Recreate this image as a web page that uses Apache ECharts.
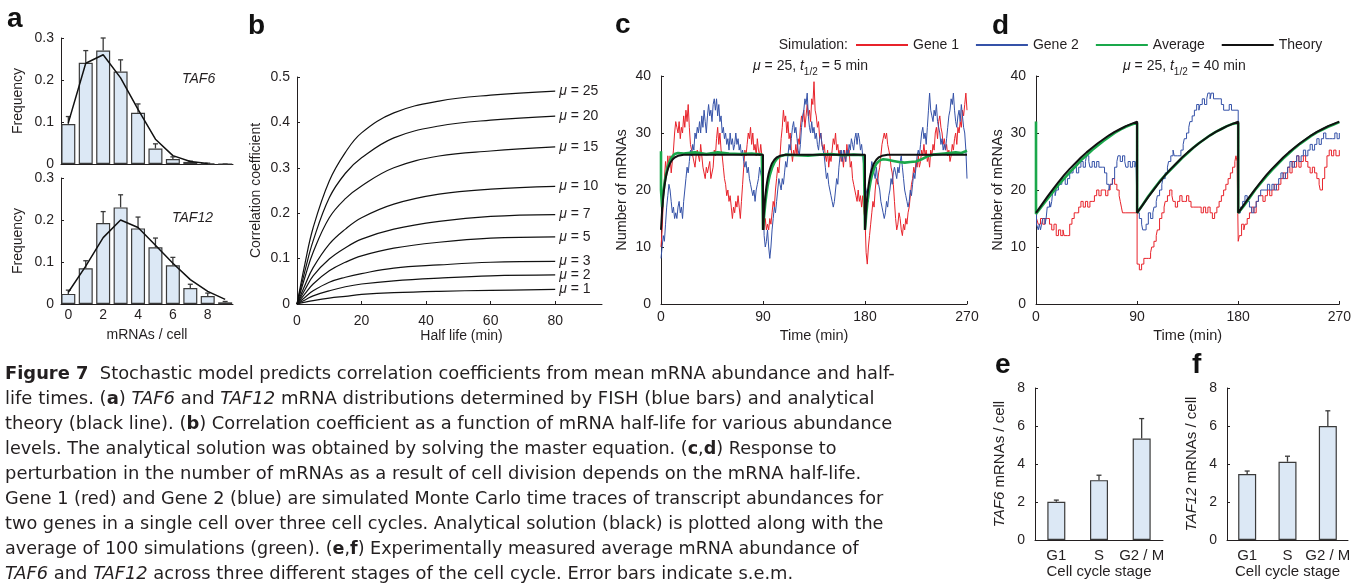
<!DOCTYPE html>
<html>
<head>
<meta charset="utf-8">
<script src="https://cdn.jsdelivr.net/npm/echarts@6.0.0/dist/echarts.min.js"></script>
<style>
  html, body { margin: 0; padding: 0; background: #fff; }
  #chart { width: 1354px; height: 587px; }
</style>
</head>
<body>
<div id="chart"></div>
<script>
// ---- panel a: FISH distributions ----
const mrnaCounts = [0, 1, 2, 3, 4, 5, 6, 7, 8, 9]
const taf6Freq = [0.095, 0.241, 0.27, 0.22, 0.122, 0.037, 0.012, 0.005, 0.001, 0]
const taf6ErrTop = [0.113, 0.27, 0.30, 0.248, 0.143, 0.048, 0.017, 0.007, 0.002, 0]
const taf6Theory = [0.098, 0.24, 0.26, 0.205, 0.13, 0.059, 0.02, 0.006, 0.001]
const taf12Freq = [0.024, 0.085, 0.193, 0.23, 0.18, 0.135, 0.092, 0.038, 0.019, 0.004]
const taf12ErrTop = [0.033, 0.103, 0.22, 0.26, 0.207, 0.157, 0.111, 0.047, 0.026, 0.006]
const taf12Theory = [0.028, 0.09, 0.158, 0.2, 0.182, 0.14, 0.097, 0.058, 0.03, 0.011]

// ---- panel b: correlation vs half life ----
const halfLife = [0, 2.5, 5, 10, 15, 20, 30, 44, 60, 80]
const muLevels = [25, 20, 15, 10, 7, 5, 3, 2, 1]
const corrMu25 = [0, 0.09, 0.168, 0.271, 0.334, 0.377, 0.421, 0.447, 0.46, 0.469]
const corrMu20 = [0, 0.074, 0.139, 0.234, 0.288, 0.322, 0.366, 0.392, 0.405, 0.414]
const corrMu15 = [0, 0.06, 0.114, 0.19, 0.232, 0.26, 0.30, 0.326, 0.337, 0.346]
const corrMu10 = [0, 0.042, 0.08, 0.132, 0.165, 0.19, 0.22, 0.242, 0.253, 0.259]
const corrMu7 = [0, 0.032, 0.062, 0.099, 0.124, 0.143, 0.165, 0.182, 0.193, 0.197]
const corrMu5 = [0, 0.023, 0.044, 0.073, 0.092, 0.106, 0.123, 0.136, 0.145, 0.148]
const corrMu3 = [0, 0.015, 0.029, 0.048, 0.059, 0.067, 0.079, 0.086, 0.092, 0.094]
const corrMu2 = [0, 0.009, 0.018, 0.029, 0.038, 0.044, 0.051, 0.057, 0.062, 0.064]
const corrMu1 = [0, 0.004, 0.0075, 0.013, 0.017, 0.021, 0.025, 0.028, 0.030, 0.032]

// ---- panel c: t1/2 = 5 min, [time, mRNAs] ----
const gene1Fast = [[0,10],[1,13],[2,18],[3,22],[4,25],[5,23],[6,26],[7,24],[8,26],[9,23],[10,25],[11,27],[12,30],[13,32],[14,31],[15,30],[16,32],[17,29],[18,31],[19,30],[20,33],[21,31],[22,34],[23,32],[24,35],[25,31],[26,28],[27,27],[28,26],[30,24],[31,26],[32,27],[34,25],[35,28],[36,26],[37,24],[39,22],[40,24],[41,23],[43,25],[44,22],[46,24],[47,27],[48,26],[49,29],[50,31],[51,28],[52,30],[53,27],[54,26],[55,24],[56,22],[57,21],[58,19],[59,20],[60,18],[61,19],[62,17],[63,15],[64,17],[65,16],[66,18],[67,17],[68,19],[69,17],[70,15],[71,18],[72,21],[73,24],[74,27],[75,26],[76,28],[77,30],[78,29],[79,31],[80,28],[81,30],[82,27],[83,28],[84,26],[85,29],[86,27],[87,26],[88,28],[89,26],[90,25],[90.5,14],[91,13],[92,15],[93,13],[94,14],[95,13],[96,15],[97,14],[98,16],[99,18],[100,17],[101,20],[102,22],[103,24],[104,23],[105,26],[106,29],[107,31],[108,34],[109,32],[110,33],[111,30],[112,32],[113,29],[114,30],[115,27],[116,25],[117,27],[118,26],[119,28],[120,26],[121,29],[122,28],[123,31],[124,33],[125,32],[126,34],[127,31],[128,33],[129,35],[130,33],[131,34],[132,32],[133,36],[134,35],[135,39],[136,34],[137,33],[138,31],[139,32],[140,29],[141,30],[142,28],[143,27],[144,28],[145,26],[146,25],[147,27],[148,24],[149,26],[150,25],[151,27],[152,29],[153,28],[154,30],[155,27],[156,28],[157,26],[158,27],[159,25],[160,26],[161,24],[162,27],[163,25],[164,28],[165,26],[166,27],[167,24],[168,25],[169,22],[170,21],[171,20],[172,19],[173,18],[174,20],[175,18],[176,19],[177,17],[178,19],[179,16],[180,15],[181,9],[182,7],[183,10],[184,12],[185,14],[186,16],[187,18],[188,17],[189,20],[190,22],[191,21],[192,23],[193,24],[194,26],[195,28],[196,29],[197,30],[198,29],[199,30],[200,28],[201,27],[202,26],[203,24],[204,23],[205,21],[206,18],[207,15],[208,13],[209,14],[210,16],[211,15],[212,13],[213,12],[214,14],[215,13],[216,15],[217,14],[218,16],[219,17],[220,19],[221,21],[222,22],[223,24],[224,23],[225,25],[226,24],[227,26],[228,24],[229,25],[230,27],[231,26],[232,28],[233,26],[234,27],[235,25],[236,26],[237,24],[238,27],[239,26],[240,28],[241,27],[242,30],[243,31],[244,29],[245,32],[246,33],[247,31],[248,30],[249,28],[250,29],[251,27],[252,28],[253,26],[254,27],[255,25],[256,26],[257,28],[258,27],[259,29],[260,30],[261,28],[262,31],[263,30],[264,32],[265,31],[266,34],[267,33],[268,35],[269,37],[270,34]]
const gene2Fast = [[0,8],[1,10],[2,12],[3,11],[4,14],[5,17],[6,19],[7,21],[8,20],[9,18],[10,16],[11,17],[12,15],[13,16],[14,15],[15,17],[16,18],[17,16],[18,17],[19,15],[20,18],[21,20],[22,22],[23,24],[24,23],[25,25],[26,27],[27,26],[28,28],[29,27],[30,30],[31,29],[32,31],[33,30],[34,32],[35,30],[36,33],[37,31],[38,34],[39,32],[40,30],[41,33],[42,35],[43,33],[44,34],[45,32],[46,35],[47,36],[48,34],[49,36],[50,33],[51,35],[52,32],[53,33],[54,30],[55,31],[56,29],[57,30],[58,28],[59,29],[60,27],[61,30],[62,28],[63,29],[64,27],[65,28],[66,30],[67,28],[68,29],[69,27],[70,28],[71,26],[72,27],[73,25],[74,24],[75,25],[76,23],[77,24],[78,22],[79,21],[80,20],[81,19],[82,20],[83,18],[84,20],[85,21],[86,22],[87,24],[88,23],[89,22],[90,21],[91,12],[92,10],[93,11],[94,13],[95,10],[96,8],[97,10],[98,13],[99,15],[100,17],[101,16],[102,18],[103,20],[104,22],[105,21],[106,20],[107,22],[108,21],[109,23],[110,25],[111,24],[112,26],[113,28],[114,27],[115,29],[116,31],[117,32],[118,30],[119,31],[120,29],[121,27],[122,26],[123,28],[124,31],[125,33],[126,34],[127,36],[128,35],[129,37],[130,33],[131,31],[132,30],[133,32],[134,30],[135,31],[136,29],[137,30],[138,28],[139,27],[140,29],[141,30],[142,28],[143,27],[144,26],[145,24],[146,22],[147,23],[148,21],[149,20],[150,19],[151,18],[152,17],[153,18],[154,20],[155,22],[156,21],[157,24],[158,26],[159,27],[160,25],[161,27],[162,26],[163,25],[164,27],[165,26],[166,28],[167,27],[168,29],[169,28],[170,27],[171,29],[172,30],[173,28],[174,30],[175,29],[176,27],[177,28],[178,26],[179,24],[180,21],[181,20],[182,19],[183,18],[184,21],[185,23],[186,25],[187,24],[188,23],[189,22],[190,24],[191,22],[192,21],[193,20],[194,18],[195,17],[196,16],[197,15],[198,16],[199,18],[200,17],[201,19],[202,20],[203,22],[204,21],[205,23],[206,24],[207,23],[208,22],[209,24],[210,23],[211,25],[212,26],[213,24],[214,22],[215,20],[216,19],[217,18],[218,17],[219,18],[220,20],[221,19],[222,21],[223,23],[224,22],[225,24],[226,26],[227,27],[228,26],[229,28],[230,30],[231,31],[232,29],[233,30],[234,28],[235,31],[236,34],[237,37],[238,34],[239,33],[240,32],[241,34],[242,33],[243,35],[244,32],[245,31],[246,30],[247,28],[248,29],[249,27],[250,28],[251,27],[252,29],[253,31],[254,33],[255,34],[256,36],[257,35],[258,37],[259,34],[260,32],[261,31],[262,33],[263,34],[264,32],[265,35],[266,33],[267,31],[268,30],[269,27],[270,22]]
const averageFast = [[0,26.8],[0,20],[1,17],[2,19.5],[3,21],[4,22.3],[5,23.3],[6,24.1],[8,25.2],[10,25.9],[12,26.3],[15,26.5],[20,26.4],[30,26.6],[40,26.3],[50,26.6],[60,26.4],[70,26.3],[80,26.4],[89,26.2],[90,26.1],[90,13],[91,15.5],[92,17.6],[93,19.3],[94,20.6],[95,21.7],[96,22.6],[98,23.9],[100,24.8],[102,25.4],[105,25.9],[110,26.2],[120,26.1],[130,26],[140,26.2],[150,26.3],[160,26.1],[170,26.2],[179,26.1],[180,26],[180,13],[181,15.5],[182,17.6],[183,19.2],[184,20.5],[185,21.6],[186,22.5],[188,23.8],[190,24.6],[193,25.2],[196,25.4],[200,25.3],[205,25.1],[210,24.9],[215,24.8],[220,24.9],[225,25],[230,25.4],[235,25.9],[240,26.2],[250,26.4],[260,26.6],[265,26.5],[270,26.9]]
const theoryFast = [[0,13],[1,16.5],[2,18.9],[3,20.6],[4,21.9],[5,22.9],[6,23.6],[7,24.2],[8,24.7],[10,25.3],[12,25.7],[15,26],[20,26.2],[90,26.2],[90,13],[91,16.5],[92,18.9],[93,20.6],[94,21.9],[95,22.9],[96,23.6],[97,24.2],[98,24.7],[100,25.3],[102,25.7],[105,26],[110,26.2],[180,26.2],[180,13],[181,16.5],[182,18.9],[183,20.6],[184,21.9],[185,22.9],[186,23.6],[187,24.2],[188,24.7],[190,25.3],[192,25.7],[195,26],[200,26.2],[270,26.2]]

// ---- panel d: t1/2 = 40 min, [time, mRNAs] ----
const gene1Slow = [[0,32],[0.5,15],[2,14],[4,15],[6,14],[8,15],[10,15],[12,14],[14,13],[16,14],[18,12],[20,13],[22,12],[24,13],[25,12],[28,12],[30,14],[32,15],[34,16],[36,16],[38,17],[40,18],[42,17],[44,18],[46,17],[48,18],[50,18],[52,19],[54,20],[56,19],[58,20],[60,20],[62,19],[64,20],[66,21],[68,22],[70,21],[72,20],[74,19],[75,18],[76,17],[77,16],[80,16],[90,7],[92,6],[94,7],[96,8],[98,8],[100,8],[102,9],[103,10],[105,11],[107,12],[108,13],[110,15],[112,16],[114,17],[115,18],[117,19],[119,20],[121,19],[122,18],[124,17],[126,18],[128,19],[130,18],[132,18],[134,19],[136,18],[138,17],[140,17],[145,17],[147,16],[149,17],[151,16],[153,17],[155,16],[157,15],[159,16],[161,17],[163,18],[165,19],[167,20],[169,21],[171,22],[173,23],[175,24],[177,25],[178,26],[179,25],[180,11],[181,12],[183,14],[185,13],[186,14],[188,15],[190,16],[192,17],[194,16],[196,18],[198,19],[200,19],[202,18],[204,19],[206,20],[208,19],[210,20],[212,21],[214,20],[216,21],[218,22],[220,23],[222,22],[224,24],[226,23],[228,25],[230,24],[232,26],[234,24],[236,25],[238,26],[240,25],[242,24],[244,23],[246,24],[248,23],[250,22],[252,21],[253,20],[255,22],[257,24],[259,26],[261,27],[263,26],[265,27],[267,26],[270,27]]
const gene2Slow = [[0,26],[0.5,14],[2,13],[3,14],[4,13],[5,14],[6,15],[8,14],[9,15],[10,17],[12,18],[13,17],[14,18],[15,20],[17,19],[18,20],[20,21],[23,22],[26,21],[28,22],[30,23],[33,24],[36,23],[38,24],[40,25],[42,24],[44,25],[45,26],[47,25],[48,24],[50,25],[52,24],[54,25],[56,24],[59,24],[61,23],[63,21],[65,20],[66,21],[68,22],[70,24],[72,25],[73,26],[75,25],[77,26],[79,25],[80,24],[82,25],[84,24],[86,25],[88,24],[89,25],[90,16],[92,15],[94,14],[95,13],[98,14],[100,16],[102,15],[104,16],[105,17],[107,18],[108,19],[110,20],[112,21],[113,22],[115,23],[117,24],[118,25],[120,26],[122,27],[123,26],[126,26],[129,27],[131,28],[132,29],[134,30],[136,31],[137,32],[139,33],[141,34],[143,35],[145,34],[146,35],[148,36],[150,35],[152,36],[153,37],[155,36],[156,37],[158,36],[163,36],[165,35],[167,34],[170,34],[172,35],[174,34],[180,16],[182,17],[184,18],[186,19],[188,18],[190,17],[192,16],[194,17],[196,18],[198,19],[200,20],[203,20],[206,21],[208,20],[210,21],[212,20],[214,21],[216,22],[218,23],[220,22],[222,23],[224,24],[226,25],[228,24],[230,25],[232,26],[234,25],[236,26],[238,27],[240,26],[242,27],[244,28],[246,27],[248,28],[250,29],[252,28],[254,29],[256,30],[258,29],[261,29],[264,29],[266,30],[268,29],[270,30]]
const averageSlow = [[0,32],[0,15.8],[5,17.1],[10,18.4],[15,19.6],[20,20.9],[25,22],[30,23.1],[35,24.1],[40,25.2],[45,26.1],[50,27],[55,27.8],[60,28.6],[65,29.3],[70,30],[75,30.6],[80,31.1],[85,31.5],[90,31.8],[90,16],[95,17.4],[100,18.9],[105,20.2],[110,21.5],[115,22.6],[120,23.6],[125,24.6],[130,25.6],[135,26.5],[140,27.4],[145,28.2],[150,28.9],[155,29.6],[160,30.2],[165,30.7],[170,31.2],[175,31.6],[180,31.8],[180,16],[185,17.2],[190,18.6],[195,20],[200,21.2],[205,22.4],[210,23.5],[215,24.5],[220,25.5],[225,26.4],[230,27.3],[235,28.1],[240,28.8],[245,29.5],[250,30.1],[255,30.6],[260,31.1],[265,31.5],[270,31.9]]
const theorySlow = [[0,16],[5,17.4],[10,18.8],[15,20.1],[20,21.4],[25,22.6],[30,23.7],[35,24.7],[40,25.7],[45,26.6],[50,27.4],[55,28.2],[60,28.9],[65,29.6],[70,30.2],[75,30.7],[80,31.2],[85,31.6],[90,32],[90,16],[95,17.4],[100,18.8],[105,20.1],[110,21.4],[115,22.6],[120,23.7],[125,24.7],[130,25.7],[135,26.6],[140,27.4],[145,28.2],[150,28.9],[155,29.6],[160,30.2],[165,30.7],[170,31.2],[175,31.6],[180,32],[180,16],[185,17.4],[190,18.8],[195,20.1],[200,21.4],[205,22.6],[210,23.7],[215,24.7],[220,25.7],[225,26.6],[230,27.4],[235,28.2],[240,28.9],[245,29.6],[250,30.2],[255,30.7],[260,31.2],[265,31.6],[270,32]]

// ---- panels e, f: cell cycle stage ----
const stages = ['G1', 'S', 'G2 / M']
const taf6Mean = [2.01, 3.15, 5.34]
const taf6Sem = [0.09, 0.26, 1.05]
const taf12Mean = [3.47, 4.12, 6.0]
const taf12Sem = [0.16, 0.29, 0.8]

const legendNames = ['Gene 1', 'Gene 2', 'Average', 'Theory']

const captionLines = [
  '{b|Figure 7}  Stochastic model predicts correlation coefficients from mean mRNA abundance and half-',
  'life times. ({b|a}) {i|TAF6} and {i|TAF12} mRNA distributions determined by FISH (blue bars) and analytical',
  'theory (black line). ({b|b}) Correlation coefficient as a function of mRNA half-life for various abundance',
  'levels. The analytical solution was obtained by solving the master equation. ({b|c},{b|d}) Response to',
  'perturbation in the number of mRNAs as a result of cell division depends on the mRNA half-life.',
  'Gene 1 (red) and Gene 2 (blue) are simulated Monte Carlo time traces of transcript abundances for',
  'two genes in a single cell over three cell cycles. Analytical solution (black) is plotted along with the',
  'average of 100 simulations (green). ({b|e},{b|f}) Experimentally measured average mRNA abundance of',
  '{i|TAF6} and {i|TAF12} across three different stages of the cell cycle. Error bars indicate s.e.m.'
]

// layout
const FONT = "'Liberation Sans', Arial, Helvetica, sans-serif"
const CAPTION_FONT = "'DejaVu Sans', Verdana, sans-serif"
const INK = '#231f20'
const RED = '#e8232b'
const BLUE = '#3552a8'
const GREEN = '#1aa84b'
const BLACK = '#111'
const BAR_FILL = '#dce8f5'
const BAR_EDGE = '#3a3a3a'
const CAPTION_LEFT = 5
const CAPTION_TOP = 374
const CAPTION_STEP = 25
const captionRight = [884, 876, 891, 835, 862, 884, 884, 857, 794]

const pairs = (xs, ys) => ys.map((y, i) => [xs[i], y])

function merge(base, extra) {
  const out = Object.assign({}, base)
  for (const k in extra) {
    const v = extra[k]
    if (v && typeof v === 'object' && !Array.isArray(v) && base[k] && typeof base[k] === 'object') {
      out[k] = merge(base[k], v)
    } else {
      out[k] = v
    }
  }
  return out
}

const axisBase = {
  type: 'value',
  nameLocation: 'middle',
  nameTextStyle: { color: INK, fontSize: 14, fontFamily: FONT },
  axisLine: { show: true, onZero: false, lineStyle: { color: INK, width: 1 } },
  axisTick: { show: true, inside: true, length: 3, lineStyle: { color: INK } },
  axisLabel: { color: INK, fontSize: 14, fontFamily: FONT },
  splitLine: { show: false }
}
const axis = (opts) => merge(axisBase, opts)

const italicRich = (size) => ({ i: { fontStyle: 'italic', fontSize: size, fontFamily: FONT, color: INK } })

function errorBar(params, api) {
  const x = api.value(0)
  const p1 = api.coord([x, api.value(1)])
  const p2 = api.coord([x, api.value(2)])
  const st = { stroke: BAR_EDGE, lineWidth: 1.3 }
  return {
    type: 'group',
    children: [
      { type: 'line', shape: { x1: p1[0], y1: p1[1], x2: p2[0], y2: p2[1] }, style: st },
      { type: 'line', shape: { x1: p2[0] - 2.5, y1: p2[1], x2: p2[0] + 2.5, y2: p2[1] }, style: st }
    ]
  }
}

const grids = [
  { left: 61, top: 38, width: 172, height: 126 },   // a top
  { left: 61, top: 178, width: 172, height: 126 },  // a bottom
  { left: 297, top: 77, width: 305, height: 227 },  // b
  { left: 661, top: 76, width: 306, height: 228 },  // c
  { left: 1036, top: 76, width: 306, height: 228 }, // d
  { left: 1035, top: 388, width: 128, height: 152 },// e
  { left: 1227, top: 388, width: 121, height: 152 } // f
]

const stageAxis = (gridIndex) => axis({
  type: 'category', gridIndex, data: stages, axisTick: { show: false }, name: 'Cell cycle stage', nameGap: 22,
  nameTextStyle: { fontSize: 15 }, axisLabel: { margin: 8, fontSize: 15, interval: 0, hideOverlap: false }
})

const xAxes = [
  axis({ gridIndex: 0, min: -0.42, max: 9.45, axisTick: { show: false }, axisLabel: { show: false } }),
  axis({ gridIndex: 1, min: -0.42, max: 9.45, name: 'mRNAs / cell', nameGap: 24,
    axisTick: { customValues: [0, 2, 4, 6, 8] }, axisLabel: { margin: 4, customValues: [0, 2, 4, 6, 8] } }),
  axis({ gridIndex: 2, min: 0, max: 94.5, name: 'Half life (min)', nameGap: 22,
    nameTextStyle: { padding: [0, 0, 0, 24] },
    axisTick: { customValues: [0, 20, 40, 60, 80] }, axisLabel: { margin: 10, customValues: [0, 20, 40, 60, 80] } }),
  axis({ gridIndex: 3, min: 0, max: 270, interval: 90, name: 'Time (min)', nameGap: 24, nameTextStyle: { fontSize: 14.5 }, axisLabel: { margin: 6 } }),
  axis({ gridIndex: 4, min: 0, max: 270, interval: 90, name: 'Time (min)', nameGap: 24, nameTextStyle: { fontSize: 14.5 }, axisLabel: { margin: 6 } }),
  stageAxis(5),
  stageAxis(6)
]

const yAxes = [
  axis({ gridIndex: 0, min: 0, max: 0.3, interval: 0.1, name: 'Frequency', nameGap: 36, axisLabel: { margin: 7 } }),
  axis({ gridIndex: 1, min: 0, max: 0.3, interval: 0.1, name: 'Frequency', nameGap: 36, axisLabel: { margin: 7 } }),
  axis({ gridIndex: 2, min: 0, max: 0.5, interval: 0.1, name: 'Correlation coefficient', nameGap: 34, axisLabel: { margin: 7 } }),
  axis({ gridIndex: 3, min: 0, max: 40, interval: 10, name: 'Number of mRNAs', nameGap: 32, nameTextStyle: { fontSize: 14.5 }, axisLabel: { margin: 10 } }),
  axis({ gridIndex: 4, min: 0, max: 40, interval: 10, name: 'Number of mRNAs', nameGap: 31, nameTextStyle: { fontSize: 14.5 }, axisLabel: { margin: 10 } }),
  axis({ gridIndex: 5, min: 0, max: 8, interval: 2, name: '{i|TAF6} mRNAs / cell', nameGap: 28,
    nameTextStyle: { fontSize: 15, rich: italicRich(15) }, axisLabel: { margin: 10 } }),
  axis({ gridIndex: 6, min: 0, max: 8, interval: 2, name: '{i|TAF12} mRNAs / cell', nameGap: 28,
    nameTextStyle: { fontSize: 15, rich: italicRich(15) }, axisLabel: { margin: 10 } })
]

const barStyle = { color: BAR_FILL, borderColor: BAR_EDGE, borderWidth: 1.2 }

function histogram(axisIdx, name, freq, errTop, theory) {
  return [
    { type: 'bar', name: name, xAxisIndex: axisIdx, yAxisIndex: axisIdx, barWidth: 14,
      data: pairs(mrnaCounts, freq), itemStyle: barStyle },
    { type: 'custom', name: name + ' err', xAxisIndex: axisIdx, yAxisIndex: axisIdx,
      data: freq.map((v, i) => [mrnaCounts[i], v, errTop[i]]), encode: { x: 0, y: [1, 2] }, renderItem: errorBar, z: 3 },
    { type: 'line', name: name + ' theory', xAxisIndex: axisIdx, yAxisIndex: axisIdx, symbol: 'none',
      data: pairs(mrnaCounts, theory), lineStyle: { color: BLACK, width: 1.5 }, z: 4 }
  ]
}

const corrByMu = [corrMu25, corrMu20, corrMu15, corrMu10, corrMu7, corrMu5, corrMu3, corrMu2, corrMu1]
const corrSeries = corrByMu.map((vals, k) => ({
  type: 'line', name: 'mu ' + muLevels[k], xAxisIndex: 2, yAxisIndex: 2, symbol: 'none', smooth: 0.4,
  data: pairs(halfLife, vals), lineStyle: { color: BLACK, width: 1.2 },
  endLabel: {
    show: true, distance: 4, color: INK, fontSize: 14, fontFamily: FONT,
    formatter: '{i|μ} = ' + muLevels[k], rich: italicRich(14)
  }
}))

function traceSeries(axisIdx, g1, g2, avg, theory, stepped) {
  const line = (name, data, color, width, z) => ({
    type: 'line', name, xAxisIndex: axisIdx, yAxisIndex: axisIdx, symbol: 'none', data,
    step: stepped && width < 2 ? 'end' : false, lineStyle: { color, width }, itemStyle: { color }, z
  })
  return [
    line('Gene 1', g1, RED, 1, 2),
    line('Gene 2', g2, BLUE, 1, 2),
    line('Average', avg, GREEN, 2.6, 3),
    line('Theory', theory, BLACK, 2, 4)
  ]
}

function stageBars(axisIdx, name, mean, sem) {
  return [
    { type: 'bar', name, xAxisIndex: axisIdx, yAxisIndex: axisIdx, barWidth: 18, data: mean, itemStyle: barStyle },
    { type: 'custom', name: name + ' sem', xAxisIndex: axisIdx, yAxisIndex: axisIdx,
      data: mean.map((v, i) => [i, v, v + sem[i]]), encode: { x: 0, y: [1, 2] }, renderItem: errorBar, z: 3 }
  ]
}

// caption font size fitted per line to the reference line lengths
const measureCtx = document.createElement('canvas').getContext('2d')
function plainWidth(line, size) {
  measureCtx.font = size + 'px ' + CAPTION_FONT
  return measureCtx.measureText(line.replace(/\{[a-z]+\|([^}]*)\}/g, '$1')).width
}

const captionGraphics = captionLines.map((line, i) => {
  let size = 16 * (captionRight[i] - CAPTION_LEFT) / plainWidth(line, 16)
  size = Math.max(14, Math.min(18, size))
  const tok = (extra) => Object.assign({ fontSize: size, fontFamily: CAPTION_FONT, fill: INK }, extra)
  return {
    type: 'text', z: 10,
    style: {
      x: CAPTION_LEFT, y: CAPTION_TOP + i * CAPTION_STEP, text: line,
      fontSize: size, fontFamily: CAPTION_FONT, fill: INK,
      textAlign: 'left', textVerticalAlign: 'middle', align: 'left', verticalAlign: 'middle',
      rich: { b: tok({ fontWeight: 'bold' }), i: tok({ fontStyle: 'italic' }) }
    }
  }
})

const panelLetter = (text, x, y) => ({
  type: 'text', z: 10,
  style: { x, y, text, font: 'bold 28px ' + FONT, fill: '#111',
    textAlign: 'left', textVerticalAlign: 'middle', align: 'left', verticalAlign: 'middle' }
})

const titleTok = (extra) => Object.assign({ fontSize: 14, fontFamily: FONT, fill: INK, lineHeight: 22 }, extra)
const panelTitle = (text, x, y) => ({
  type: 'text', z: 10,
  style: {
    x, y, text, fontSize: 14, fontFamily: FONT, fill: INK,
    textAlign: 'left', textVerticalAlign: 'middle', align: 'left', verticalAlign: 'middle',
    rich: {
      n: titleTok({}),
      i: titleTok({ fontStyle: 'italic' }),
      s: { fontSize: 10, fontFamily: FONT, fill: INK, verticalAlign: 'bottom' }
    }
  }
})

const option = {
  animation: false,
  backgroundColor: '#fff',
  textStyle: { fontFamily: FONT, color: INK },
  grid: grids,
  xAxis: xAxes,
  yAxis: yAxes,
  legend: {
    data: legendNames, left: 855, top: 38, padding: 0, itemWidth: 52, itemHeight: 10, itemGap: 16,
    itemStyle: { opacity: 0 },
    textStyle: { fontSize: 14, color: INK, fontFamily: FONT }
  },
  series: [
    ...histogram(0, 'TAF6', taf6Freq, taf6ErrTop, taf6Theory),
    ...histogram(1, 'TAF12', taf12Freq, taf12ErrTop, taf12Theory),
    ...corrSeries,
    ...traceSeries(3, gene1Fast, gene2Fast, averageFast, theoryFast, false),
    ...traceSeries(4, gene1Slow, gene2Slow, averageSlow, theorySlow, true),
    ...stageBars(5, 'TAF6 stage', taf6Mean, taf6Sem),
    ...stageBars(6, 'TAF12 stage', taf12Mean, taf12Sem)
  ],
  graphic: [
    panelLetter('a', 7, 19),
    panelLetter('b', 248, 26),
    panelLetter('c', 615, 25),
    panelLetter('d', 992, 26),
    panelLetter('e', 995, 365),
    panelLetter('f', 1192, 365),
    { type: 'text', z: 10, style: { x: 182, y: 79, text: 'TAF6', fontSize: 14, fontFamily: FONT, fontStyle: 'italic', fill: INK,
      textAlign: 'left', textVerticalAlign: 'middle', align: 'left', verticalAlign: 'middle' } },
    { type: 'text', z: 10, style: { x: 172, y: 218, text: 'TAF12', fontSize: 14, fontFamily: FONT, fontStyle: 'italic', fill: INK,
      textAlign: 'left', textVerticalAlign: 'middle', align: 'left', verticalAlign: 'middle' } },
    { type: 'text', z: 10, style: { x: 848, y: 45, text: 'Simulation:', fontSize: 14, fontFamily: FONT, fill: INK,
      textAlign: 'right', textVerticalAlign: 'middle', align: 'right', verticalAlign: 'middle' } },
    panelTitle('{i|μ}{n| = 25, }{i|t}{s|1/2}{n| = 5 min}', 753, 66),
    panelTitle('{i|μ}{n| = 25, }{i|t}{s|1/2}{n| = 40 min}', 1123, 66),
    ...captionGraphics
  ]
}

const chart = echarts.init(document.getElementById('chart'), null, { renderer: 'canvas' })
chart.setOption(option)
</script>
</body>
</html>
